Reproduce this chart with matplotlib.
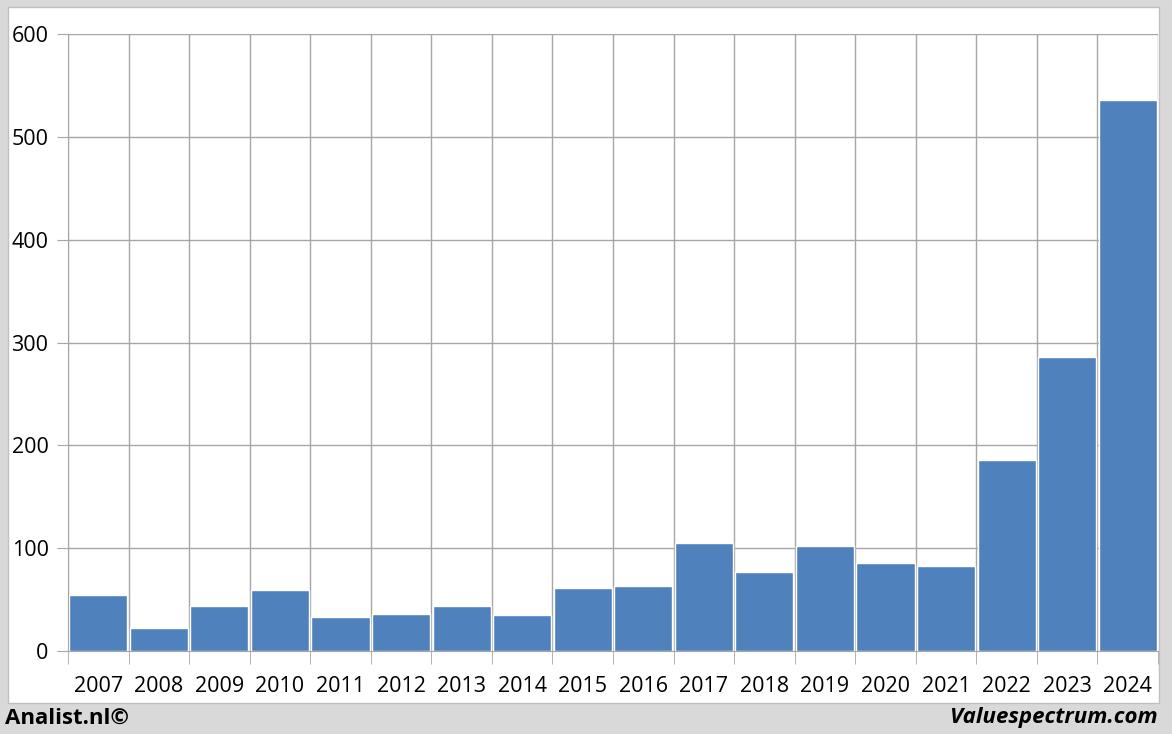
import numpy as np
import matplotlib.pyplot as plt
from matplotlib.patches import Rectangle

years = ['2007', '2008', '2009', '2010', '2011', '2012', '2013', '2014', '2015',
         '2016', '2017', '2018', '2019', '2020', '2021', '2022', '2023', '2024']
values = [54, 22, 44, 59, 33, 36, 44, 35, 61, 63, 105, 77, 102, 86, 83, 186, 286, 536]
yticks = [0, 100, 200, 300, 400, 500, 600]

W, H = 1172, 734
fig = plt.figure(figsize=(W / 100, H / 100), dpi=100)
fig.patch.set_facecolor('#d9d9d9')

# white panel behind the chart
fig.patches.append(Rectangle((8 / W, 1 - 703 / H), (1159 - 8) / W, (703 - 7) / H,
                             transform=fig.transFigure, facecolor='white',
                             edgecolor='#c0c0c0', linewidth=1, zorder=-5))

ax = fig.add_axes([68 / W, 1 - 651 / H, (1158 - 68) / W, (651 - 34) / H])
ax.set_zorder(1)
ax.set_facecolor('white')
x = np.arange(len(years))
ax.bar(x, values, width=0.96, color='#4f81bd', edgecolor='white', linewidth=1, zorder=2)

ax.set_xlim(-0.5, len(years) - 0.5)
ax.set_ylim(0, 600)
ax.set_yticks(yticks)
ax.set_yticklabels([str(v) for v in yticks])
ax.set_xticks(x)
ax.set_xticklabels(years)
ax.set_xticks(np.arange(-0.5, len(years)), minor=True)

ax.grid(axis='y', color='#a6a6a6', linewidth=1, zorder=0)
ax.grid(axis='x', which='minor', color='#a6a6a6', linewidth=1, zorder=0)
ax.tick_params(axis='x', which='major', length=0, pad=18, labelsize=15.5)
ax.tick_params(axis='x', which='minor', length=9, color='#a6a6a6')
ax.tick_params(axis='y', length=8, color='#a6a6a6', labelsize=15.5, pad=6)
for lab in ax.get_xticklabels() + ax.get_yticklabels():
    lab.set_fontfamily('Open Sans')

for s in ['top', 'right']:
    ax.spines[s].set_visible(False)
ax.spines['left'].set_color('#a6a6a6')
ax.spines['bottom'].set_color('#a6a6a6')

fig.text(5 / W, 1 - 718 / H, 'Analist.nl©', fontsize=16, fontweight='bold',
         family='Open Sans', va='center', ha='left')
fig.text(1158 / W, 1 - 718 / H, 'Valuespectrum.com', fontsize=16, fontweight='bold',
         style='italic', family='Open Sans', va='center', ha='right')

fig.savefig('out.png', dpi=100, facecolor=fig.get_facecolor())
